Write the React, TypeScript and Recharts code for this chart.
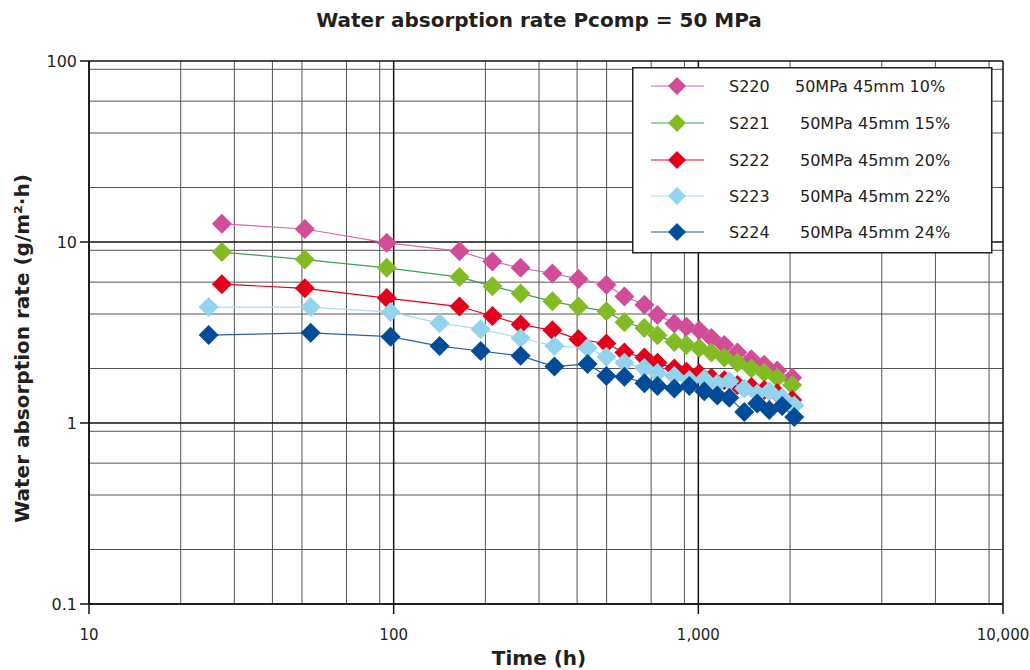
import React from 'react';
import { ScatterChart, Scatter, XAxis, YAxis, CartesianGrid, Legend } from 'recharts';

// Time values (h)
const timesA = [27.3, 51.1, 94.9, 164.5, 211, 261, 332, 404, 499, 572, 665, 734, 834, 914, 1007, 1104, 1217, 1343, 1493, 1646, 1816, 2033];
const timesB = [24.7, 53.4, 97.7, 141.5, 193, 261, 337, 433, 499, 572, 665, 734, 834, 934, 1046, 1154, 1264, 1415, 1561, 1709, 1885, 2065];

// Water absorption rate (g/m2.h)
const s220 = [12.6, 11.8, 9.9, 8.9, 7.8, 7.2, 6.7, 6.25, 5.8, 5.0, 4.5, 3.95, 3.55, 3.4, 3.25, 2.95, 2.7, 2.45, 2.25, 2.1, 1.95, 1.78];
const s221 = [8.8, 8.0, 7.2, 6.4, 5.7, 5.2, 4.7, 4.4, 4.15, 3.6, 3.35, 3.05, 2.8, 2.7, 2.6, 2.45, 2.3, 2.15, 2.0, 1.9, 1.78, 1.62];
const s222 = [5.85, 5.55, 4.9, 4.4, 3.9, 3.5, 3.25, 2.9, 2.75, 2.45, 2.3, 2.15, 2.0, 1.92, 1.88, 1.78, 1.72, 1.62, 1.58, 1.52, 1.46, 1.34];
const s223 = [4.37, 4.37, 4.1, 3.56, 3.3, 2.95, 2.66, 2.6, 2.32, 2.15, 2.01, 1.89, 1.82, 1.73, 1.75, 1.65, 1.7, 1.55, 1.45, 1.5, 1.38, 1.25];
const s224 = [3.06, 3.15, 3.0, 2.66, 2.5, 2.35, 2.05, 2.12, 1.82, 1.8, 1.66, 1.6, 1.55, 1.6, 1.5, 1.42, 1.38, 1.15, 1.28, 1.18, 1.24, 1.08];

const seriesNames = ['S220', 'S221', 'S222', 'S223', 'S224'];
const seriesDesc = ['50MPa 45mm 10%', '50MPa 45mm 15%', '50MPa 45mm 20%', '50MPa 45mm 22%', '50MPa 45mm 24%'];
const markerColors = ['#D24C98', '#82BC25', '#E2001A', '#93D4EC', '#004C99'];
const lineColors = ['#D868A8', '#3C9E5C', '#E2001A', '#A8DCF0', '#2A5FA8'];

const xTicks = [10, 100, 1000, 10000];
const yTicks = [0.1, 1, 10, 100];
const xMinor = [20, 30, 40, 50, 60, 70, 80, 90, 200, 300, 400, 500, 600, 700, 800, 900, 2000, 3000, 4000, 5000, 6000, 7000, 8000, 9000];
const yMinor = [0.2, 0.3, 0.4, 0.5, 0.6, 0.7, 0.8, 0.9, 2, 3, 4, 5, 6, 7, 8, 9, 20, 30, 40, 50, 60, 70, 80, 90];

const seriesValues = [s220, s221, s222, s223, s224];
const seriesTimes = [timesA, timesA, timesA, timesB, timesB];
const seriesData = seriesValues.map((vals, i) => vals.map((v, j) => ({ t: seriesTimes[i][j], v })));

const FONT = '"DejaVu Sans", "Liberation Sans", Arial, sans-serif';
const TEXT = '#231F20';

const makeDiamond = (color: string, r: number) => (props: any) => {
  const { cx, cy } = props;
  if (cx == null || cy == null) return <g />;
  return <path d={`M${cx},${cy - r}L${cx + r},${cy}L${cx},${cy + r}L${cx - r},${cy}Z`} fill={color} />;
};

const LegendBox = () => {
  const rows = [19, 56, 93, 129, 165];
  return (
    <svg width={361} height={187} style={{ display: 'block' }}>
      <rect x={0.75} y={0.75} width={359} height={185} fill="#fff" stroke="#222" strokeWidth={1.5} />
      {seriesNames.map((n, i) => {
        const y = rows[i];
        return (
          <g key={n}>
            <line x1={19} x2={72} y1={y} y2={y} stroke={lineColors[i]} strokeWidth={1.2} />
            <path d={`M45,${y - 9}L54,${y}L45,${y + 9}L36,${y}Z`} fill={markerColors[i]} />
            <text x={97} y={y} dominantBaseline="central" fontFamily={FONT} fontSize={16} fill={TEXT}>{n}</text>
            <text x={i === 0 ? 163 : 168} y={y} dominantBaseline="central" fontFamily={FONT} fontSize={16} fill={TEXT}>{seriesDesc[i]}</text>
          </g>
        );
      })}
    </svg>
  );
};

export default function App() {
  return (
    <div style={{ position: 'absolute', left: 0, top: 0, width: 1030, height: 670, background: '#fff' }}>
      <div style={{ position: 'absolute', left: 0, top: 9, width: 1078, textAlign: 'center', fontFamily: FONT, fontWeight: 'bold', fontSize: 20, lineHeight: '22px', color: TEXT }}>
        Water absorption rate Pcomp = 50 MPa
      </div>
      <ScatterChart width={1030} height={670} margin={{ top: 61, right: 27, bottom: 0, left: 0 }}>
        <CartesianGrid horizontalValues={yMinor} verticalValues={xMinor} stroke="#555" strokeWidth={1} />
        <CartesianGrid horizontalValues={yTicks} verticalValues={xTicks} stroke="#111" strokeWidth={1.5} />
        <XAxis
          type="number"
          dataKey="t"
          scale="log"
          domain={[10, 10000]}
          ticks={xTicks}
          allowDataOverflow
          height={66}
          tickSize={10}
          tickMargin={15}
          stroke="#111"
          strokeWidth={1.5}
          tick={{ fill: TEXT, fontSize: 15, fontFamily: FONT }}
          tickFormatter={(v: number) => v.toLocaleString('en-US')}
          label={{
            content: (p: any) => {
              const vb = p.viewBox;
              return (
                <text x={vb.x + vb.width / 2 - 7} y={vb.y + 54} textAnchor="middle" dominantBaseline="central" fontFamily={FONT} fontWeight="bold" fontSize={20} fill={TEXT}>
                  Time (h)
                </text>
              );
            },
          }}
        />
        <YAxis
          type="number"
          dataKey="v"
          scale="log"
          domain={[0.1, 100]}
          ticks={yTicks}
          allowDataOverflow
          width={89}
          tickSize={9}
          tickMargin={3}
          stroke="#111"
          strokeWidth={1.5}
          tick={{ fill: TEXT, fontSize: 16, fontFamily: FONT }}
          tickFormatter={(v: number) => String(v)}
          label={{
            content: (p: any) => {
              const vb = p.viewBox;
              const cx = vb.x + 22;
              const cy = vb.y + vb.height / 2 + 16;
              return (
                <text x={cx} y={cy} transform={`rotate(-90 ${cx} ${cy})`} textAnchor="middle" dominantBaseline="central" fontFamily={FONT} fontWeight="bold" fontSize={20} fill={TEXT}>
                  Water absorption rate (g/m²·h)
                </text>
              );
            },
          }}
        />
        <Legend
          layout="vertical"
          align="center"
          verticalAlign="middle"
          wrapperStyle={{ left: 632, top: 67, width: 361, height: 187 }}
          content={() => <LegendBox />}
        />
        {seriesNames.map((n, i) => (
          <Scatter
            key={n}
            name={n}
            data={seriesData[i]}
            fill={markerColors[i]}
            line={{ stroke: lineColors[i], strokeWidth: 1.2 }}
            lineType="joint"
            shape={makeDiamond(markerColors[i], 10)}
            isAnimationActive={false}
          />
        ))}
      </ScatterChart>
    </div>
  );
}
